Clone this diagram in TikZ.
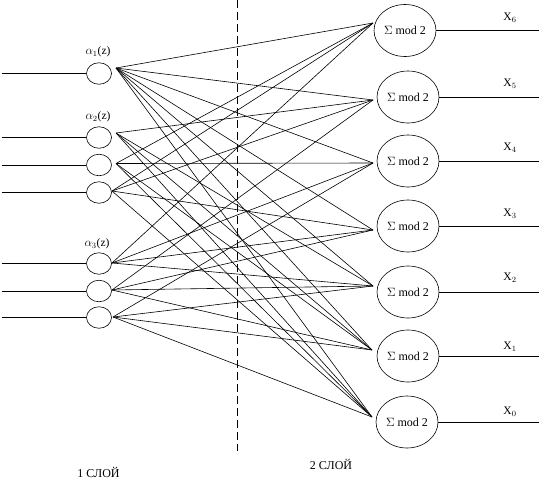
\documentclass[tikz,border=0pt]{standalone}
\usepackage{fontspec}
\setmainfont{Liberation Serif}
\usetikzlibrary{shapes.geometric}
\begin{document}
\begin{tikzpicture}[x=1pt,y=-1pt,
  lnk/.style={line width=0.6pt},
  inode/.style={draw, ellipse, minimum width=25pt, minimum height=21.5pt, inner sep=0pt, line width=0.6pt},
  snode/.style={draw, ellipse, minimum width=62pt, minimum height=52pt, inner sep=0pt, line width=0.6pt, font=\fontsize{12}{12}\selectfont},
  lbl/.style={inner sep=0pt, font=\fontsize{11.5}{12}\selectfont},
  layer/.style={inner sep=0pt, font=\fontsize{12}{12}\selectfont},
]
\useasboundingbox (0,0) rectangle (546,493);
% left nodes
\node[inode] (a1) at (99,73.5) {};
\node[inode] (a2) at (99,137.5) {};
\node[inode] (a3) at (99,165) {};
\node[inode] (a4) at (99,192.5) {};
\node[inode] (a5) at (99,263.5) {};
\node[inode] (a6) at (99,291) {};
\node[inode] (a7) at (99,317.5) {};
\node[lbl] (la1) at (98,52) {$\alpha_1$(z)};
\node[lbl] (la2) at (98,117) {$\alpha_2$(z)};
\node[lbl] (la3) at (97,244) {$\alpha_3$(z)};
% input lines
\foreach \i/\y in {1/73.5,2/137.5,3/165,4/192.5,5/263.5,6/291,7/317.5}{
  \coordinate (in\i) at (1.5,\y);
  \draw[lnk] (in\i) -- (a\i.west);
}
% right nodes
\node[snode] (s6) at (405,30.5) {$\Sigma$ mod 2};
\node[snode] (s5) at (408,97) {$\Sigma$ mod 2};
\node[snode] (s4) at (408,161) {$\Sigma$ mod 2};
\node[snode] (s3) at (408,226) {$\Sigma$ mod 2};
\node[snode] (s2) at (408,292) {$\Sigma$ mod 2};
\node[snode] (s1) at (408,356) {$\Sigma$ mod 2};
\node[snode] (s0) at (407,422) {$\Sigma$ mod 2};
% output lines and labels
\foreach \i/\y/\ly in {6/30.5/18,5/97/84,4/161/148,3/226/214,2/292/278,1/356/347,0/422/412}{
  \coordinate (end\i) at (539,\y);
  \draw[lnk] (s\i.east) -- (end\i);
  \node[lbl] (x\i) at (510,\ly) {X$_{\i}$};
}
% exits and entries
\coordinate (o1) at (116,68);
\coordinate (o2) at (116,133);
\coordinate (o3) at (116,163.5);
\coordinate (o4) at (112,191);
\coordinate (o5) at (112,263);
\coordinate (o6) at (112,290);
\coordinate (o7) at (113,317);
\coordinate (e6) at (373,23);
\coordinate (e5) at (373,100);
\coordinate (e4) at (373,163);
\coordinate (e3) at (373,230);
\coordinate (e2) at (373,286);
\coordinate (e1) at (372,350);
\coordinate (e0) at (372,417);
% connections
\foreach \j in {0,...,6} \draw[lnk] (o1) -- (e\j);
\foreach \j in {0,1,2,5} \draw[lnk] (o2) -- (e\j);
\foreach \j in {0,1,4,6} \draw[lnk] (o3) -- (e\j);
\foreach \j in {0,3,5,6} \draw[lnk] (o4) -- (e\j);
\foreach \j in {2,3,4,6} \draw[lnk] (o5) -- (e\j);
\foreach \j in {1,2,3,5} \draw[lnk] (o6) -- (e\j);
\foreach \j in {0,1,2,4} \draw[lnk] (o7) -- (e\j);
% dashed separator
\coordinate (dtop) at (237,0);
\coordinate (dbot) at (237,451);
\draw[lnk, dash pattern=on 8pt off 4pt] (dtop) -- (dbot);
\node[layer] (l1) at (98.5,472) {1 СЛОЙ};
\node[layer] (l2) at (331,464) {2 СЛОЙ};
\end{tikzpicture}
\end{document}
